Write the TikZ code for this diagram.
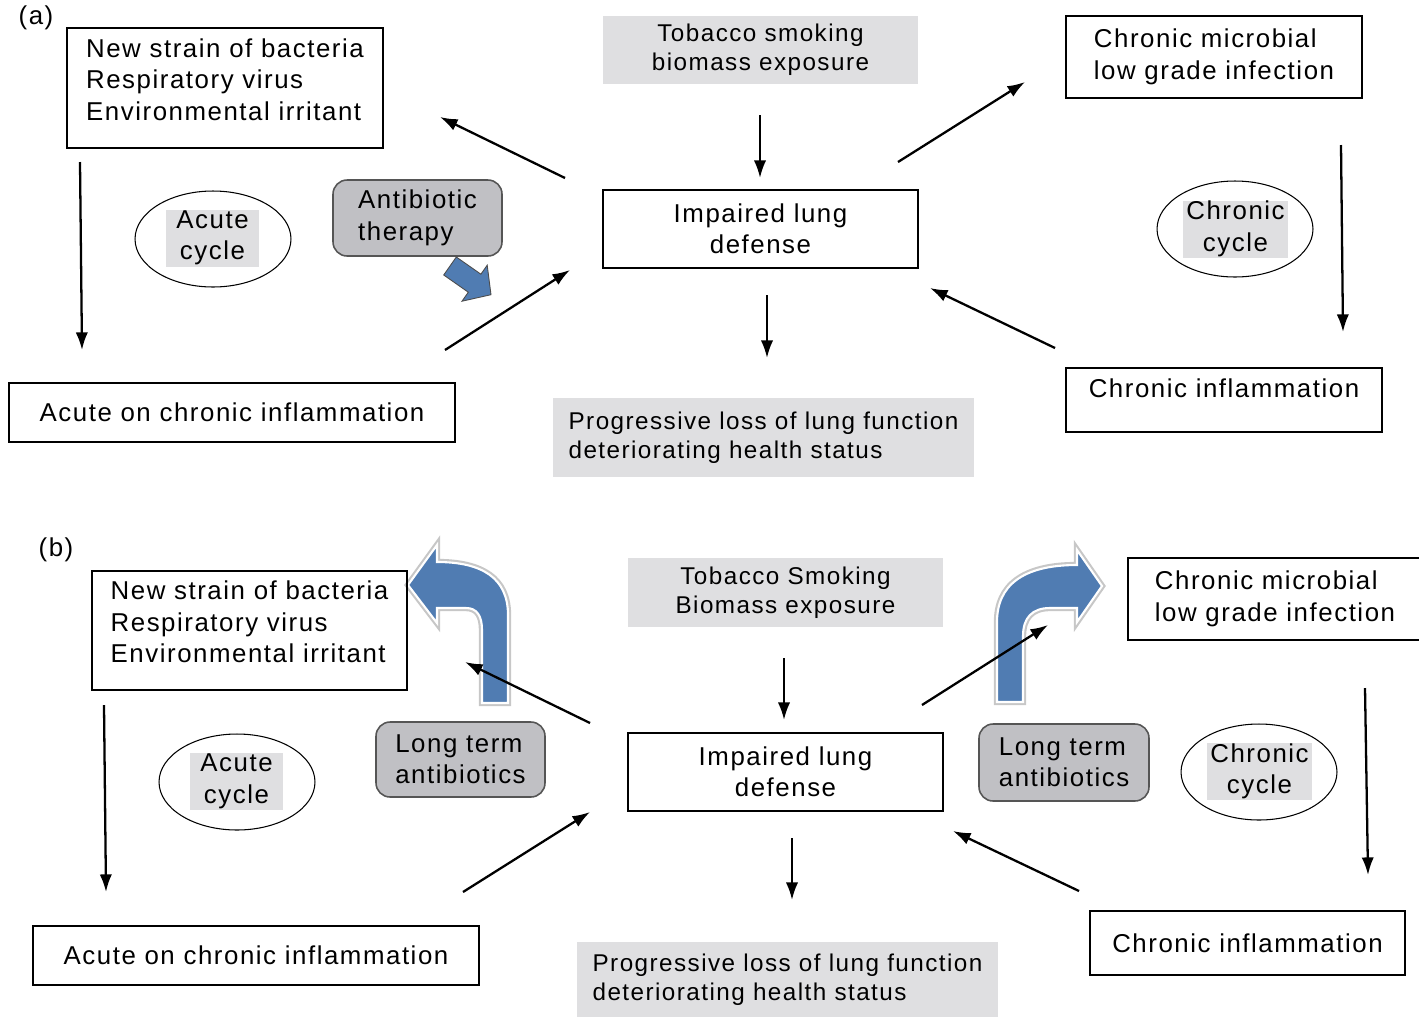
\documentclass[tikz,border=0pt]{standalone}
\usepackage{fontspec}
\setmainfont[LetterSpace=6]{Liberation Sans}
\usetikzlibrary{arrows.meta,shapes.geometric}
\definecolor{boxgray}{RGB}{223,223,225}
\definecolor{pillgray}{RGB}{192,192,196}
\definecolor{pilledge}{RGB}{85,85,85}
\definecolor{bendblue}{RGB}{80,124,178}

\begin{document}
\begin{tikzpicture}[x=0.02cm, y=-0.02cm,
  font=\fontsize{14.7}{17.9}\selectfont,
  plainbox/.style={draw, line width=0.7pt, inner sep=0pt, align=left},
  greybox/.style={fill=boxgray, inner sep=0pt, align=left,
    font=\fontsize{13.8}{16.3}\selectfont},
  pill/.style={draw=pilledge, fill=pillgray, line width=0.9pt,
    rounded corners=8pt, inner sep=0pt, align=left,
    minimum width=3.38cm, minimum height=1.52cm},
  loopring/.style={draw, ellipse, line width=0.6pt, inner sep=0pt,
    minimum width=3.12cm, minimum height=1.92cm},
  looptag/.style={fill=boxgray, inner sep=0pt, align=center,
    minimum height=1.14cm},
  flow/.style={-{Latex[length=10pt,width=7pt]}, line width=1.3pt},
  bendarrow/.style={fill=bendblue, draw=white, line width=1.2pt,
    preaction={draw=black!22, line width=3.6pt}}]
\useasboundingbox (0,0) rectangle (1419,1018);

% (a)
\node (tagA) at (36,18) {(a)};
\node[plainbox, minimum width=6.32cm, minimum height=2.4cm] (bact) at (225,88)
  {New strain of bacteria\\Respiratory virus\\Environmental irritant\\[-8pt]\mbox{}};
\node[greybox, align=center, minimum width=6.3cm, minimum height=1.36cm] (smoke) at (760.5,50)
  {Tobacco smoking\\biomass exposure};
\node[plainbox, minimum width=5.92cm, minimum height=1.64cm] (microb) at (1214,57)
  {Chronic microbial\\low grade infection};
\node[plainbox, align=center, minimum width=6.3cm, minimum height=1.56cm] (lung) at (760.5,229)
  {Impaired lung\\defense};
\node[loopring] (acute) at (213,239) {};
\node[looptag, minimum width=1.86cm] (acutetag) at (212.5,238) {Acute\\cycle};
\node[pill] (abx) at (417.5,218) {Antibiotic\\therapy};
\node[plainbox, minimum width=8.92cm, minimum height=1.18cm] (acoc) at (232,412.5)
  {Acute on chronic inflammation};
\node[greybox, minimum width=8.42cm, minimum height=1.58cm] (loss) at (763.5,437.5)
  {Progressive loss of lung function\\deteriorating health status};
\node[plainbox, align=center, minimum width=6.32cm, minimum height=1.28cm] (chinf) at (1224,400)
  {Chronic inflammation\\[-4pt]\mbox{}};
\node[loopring] (chronic) at (1235,229) {};
\node[looptag, minimum width=2.1cm] (chronictag) at (1235.5,229) {Chronic\\cycle};

\fill[bendblue, draw=black!70, line width=0.5pt] (443.7,275) -- (456.3,257)
  -- (480.9,274.2) -- (487.2,265.2) -- (491,294.7) -- (462,301.2)
  -- (468.3,292.2) -- cycle;

\coordinate (a1) at (80,162);    \coordinate (a2) at (82,350);
\coordinate (a3) at (565,178);   \coordinate (a4) at (440,117);
\coordinate (a5) at (445,350);   \coordinate (a6) at (570,270);
\coordinate (a7) at (760,115);   \coordinate (a8) at (760,178);
\coordinate (a9) at (898,162);   \coordinate (a10) at (1025,82);
\coordinate (a11) at (1341,145); \coordinate (a12) at (1343,332);
\coordinate (a13) at (1055,348); \coordinate (a14) at (930,288);
\coordinate (a15) at (767,295);  \coordinate (a16) at (767,358);
\draw[flow] (a1) -- (a2);
\draw[flow] (a3) -- (a4);
\draw[flow] (a5) -- (a6);
\draw[flow] (a7) -- (a8);
\draw[flow] (a9) -- (a10);
\draw[flow] (a11) -- (a12);
\draw[flow] (a13) -- (a14);
\draw[flow] (a15) -- (a16);

% (b)
\node (tagB) at (56,550) {(b)};
\path[bendarrow] (508,703) -- (508,615) .. controls (508,578) and (482,562) .. (437,562)
  -- (437,545) -- (408,585) -- (437,623) -- (437,608) -- (466,608)
  .. controls (477,608) and (482,616) .. (482,630) -- (482,703) -- cycle;
\path[bendarrow] (997,702) -- (997,622) .. controls (997,586) and (1022,565) .. (1077,565)
  -- (1077,550) -- (1102,586) -- (1077,622) -- (1077,608) -- (1050,608)
  .. controls (1032,608) and (1023,618) .. (1023,636) -- (1023,702) -- cycle;

\node[plainbox, minimum width=6.3cm, minimum height=2.38cm] (bactB) at (249.5,630.5)
  {New strain of bacteria\\Respiratory virus\\Environmental irritant\\[-8pt]\mbox{}};
\node[greybox, align=center, minimum width=6.3cm, minimum height=1.38cm] (smokeB) at (785.5,592.5)
  {Tobacco Smoking\\Biomass exposure};
\node[plainbox, minimum width=5.88cm, minimum height=1.64cm] (microbB) at (1275,599)
  {Chronic microbial\\low grade infection};
\node[plainbox, align=center, minimum width=6.3cm, minimum height=1.56cm] (lungB) at (785.5,772)
  {Impaired lung\\defense};
\node[loopring] (acuteB) at (237,782) {};
\node[looptag, minimum width=1.86cm] (acutetagB) at (236.5,781.5) {Acute\\cycle};
\node[pill, minimum height=1.5cm] (ltaL) at (460.5,759.5) {Long term\\antibiotics};
\node[pill, minimum width=3.4cm, minimum height=1.54cm] (ltaR) at (1064,762.5) {Long term\\antibiotics};
\node[plainbox, minimum width=8.92cm, minimum height=1.18cm] (acocB) at (256,955.5)
  {Acute on chronic inflammation};
\node[greybox, minimum width=8.42cm, minimum height=1.5cm] (lossB) at (787.5,979.5)
  {Progressive loss of lung function\\deteriorating health status};
\node[plainbox, minimum width=6.3cm, minimum height=1.28cm] (chinfB) at (1247.5,943)
  {Chronic inflammation};
\node[loopring] (chronicB) at (1259,772) {};
\node[looptag, minimum width=2.1cm] (chronictagB) at (1259.5,771.5) {Chronic\\cycle};

\coordinate (b1) at (104,705);   \coordinate (b2) at (106,892);
\coordinate (b3) at (590,723);   \coordinate (b4) at (465,662);
\coordinate (b5) at (463,892);   \coordinate (b6) at (590,812);
\coordinate (b7) at (784,658);   \coordinate (b8) at (784,720);
\coordinate (b9) at (922,705);   \coordinate (b10) at (1048,625);
\coordinate (b11) at (1365,688); \coordinate (b12) at (1368,875);
\coordinate (b13) at (1079,891); \coordinate (b14) at (953,831);
\coordinate (b15) at (792,838);  \coordinate (b16) at (792,900);
\draw[flow] (b1) -- (b2);
\draw[flow] (b3) -- (b4);
\draw[flow] (b5) -- (b6);
\draw[flow] (b7) -- (b8);
\draw[flow] (b9) -- (b10);
\draw[flow] (b11) -- (b12);
\draw[flow] (b13) -- (b14);
\draw[flow] (b15) -- (b16);
\end{tikzpicture}
\end{document}
